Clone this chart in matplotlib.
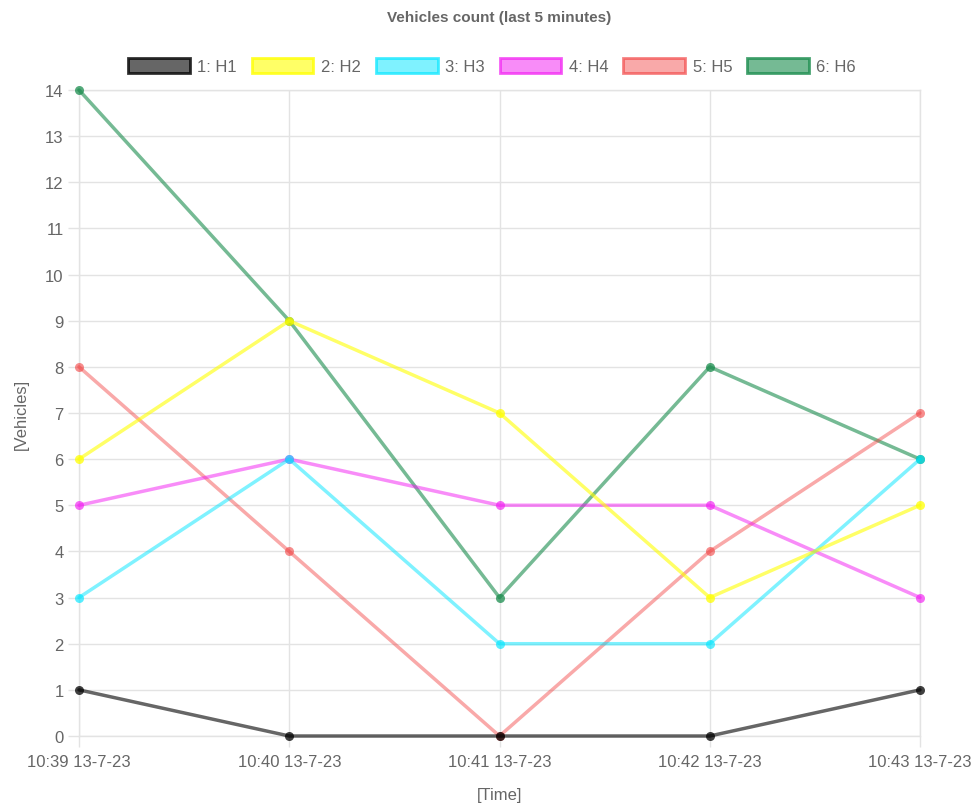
import matplotlib
matplotlib.use("Agg")
import matplotlib.pyplot as plt
from matplotlib.patches import Patch

# chart values
times = ["10:39 13-7-23", "10:40 13-7-23", "10:41 13-7-23", "10:42 13-7-23", "10:43 13-7-23"]
labels = ["1: H1", "2: H2", "3: H3", "4: H4", "5: H5", "6: H6"]
h1 = [1, 0, 0, 0, 1]
h2 = [6, 9, 7, 3, 5]
h3 = [3, 6, 2, 2, 6]
h4 = [5, 6, 5, 5, 3]
h5 = [8, 4, 0, 4, 7]
h6 = [14, 9, 3, 8, 6]
series = [h1, h2, h3, h4, h5, h6]

base_colors = [(0, 0, 0), (1, 1, 0), (0, 0.9, 1), (0.95, 0.1, 0.95), (0.95, 0.25, 0.25), (0.1, 0.55, 0.3)]
line_alpha = [0.6, 0.6, 0.5, 0.5, 0.45, 0.6]

plt.rcParams['font.family'] = ['Liberation Sans', 'DejaVu Sans']
text_col = '#666666'
grid_col = '#e3e3e3'

fig = plt.figure(figsize=(9.79, 8.04), dpi=100)
ax = fig.add_axes([79 / 979, 1 - 737 / 804, (920 - 79) / 979, (737 - 91) / 804])

x = list(range(len(times)))
n = len(series)
for i, (vals, c, a) in enumerate(zip(series, base_colors, line_alpha)):
    # first dataset is drawn on top, like the original chart
    z = 10 + (n - i) * 2
    ax.plot(x, vals, color=(*c, a), lw=2.5, zorder=z, clip_on=False,
            solid_capstyle='round')
    ax.plot(x, vals, ls='none', marker='o', ms=6.5, mew=0,
            color=(*c, min(1, a + 0.15)), zorder=z + 1, clip_on=False)

ax.set_xlim(0, len(times) - 1)
ax.set_ylim(0, 14)
ax.set_yticks(range(0, 15))
ax.set_xticks(x)
ax.set_xticklabels(times)

for s in ax.spines.values():
    s.set_color(grid_col)
    s.set_linewidth(1)
ax.grid(True, color=grid_col, lw=1)
ax.set_axisbelow(True)
ax.tick_params(axis='both', colors=grid_col, labelcolor=text_col, labelsize=12,
               length=8, width=1, pad=5)
ax.tick_params(axis='y', pad=3)

ax.set_ylabel('[Vehicles]', color=text_col, fontsize=12, labelpad=12)
ax.set_xlabel('[Time]', color=text_col, fontsize=12, labelpad=13)

fig.text(499 / 979, 1 - 18 / 804, 'Vehicles count (last 5 minutes)', ha='center', va='center',
         fontsize=11, fontweight='bold', color=text_col)

handles = [Patch(facecolor=(*c, a), edgecolor=(*c, min(1, a + 0.2)), lw=2)
           for c, a in zip(base_colors, line_alpha)]
fig.legend(handles, labels, loc='center', bbox_to_anchor=(492 / 979, 1 - 67 / 804), ncol=6,
           frameon=False, fontsize=12, labelcolor=text_col, handlelength=3.7, handleheight=1.0,
           handletextpad=0.45, columnspacing=0.9)

fig.savefig('out.png', dpi=100)
